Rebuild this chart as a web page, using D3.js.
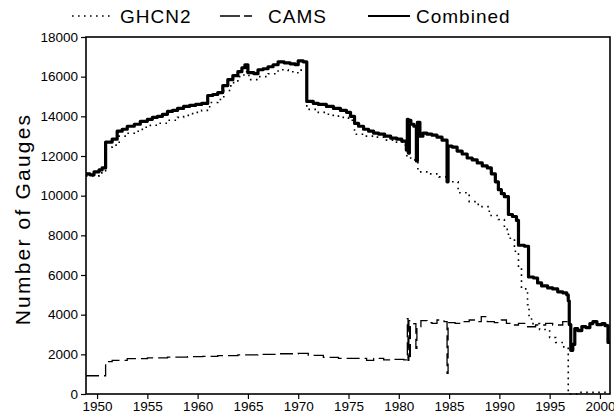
<!DOCTYPE html>
<html>
<head>
<meta charset="utf-8">
<script src="https://cdn.jsdelivr.net/npm/d3@7"></script>
<style>
	body { margin: 0; background: #fff; }
	svg { display: block; font-family: "Liberation Sans", Arial, sans-serif; }
	.tick_label { font-size: 13.5px; fill: #000; }
	.legend_text { font-size: 19px; letter-spacing: 1px; fill: #000; }
	.axis_title { font-size: 21px; letter-spacing: 2.2px; fill: #000; }
</style>
</head>
<body>
<svg id="chart" width="614" height="415"></svg>
<script>
// [year, number of gauges]
const ghcn2 = [
	[1948.9, 11000], [1949.5, 11000], [1950.2, 11150], [1950.85, 12450], [1951.5, 12550],
	[1952.2, 13000], [1953.0, 13150], [1953.7, 13250], [1954.5, 13450], [1955.3, 13550],
	[1956.0, 13650], [1957.0, 13800], [1958.0, 13950], [1958.6, 14050], [1959.5, 14200],
	[1960.4, 14300], [1961.2, 14700], [1962.0, 14850], [1962.6, 15300], [1963.3, 15700],
	[1964.0, 16000], [1964.6, 16250], [1965.1, 15850], [1966.0, 16000], [1967.0, 16150],
	[1968.0, 16350], [1969.0, 16250], [1969.8, 16200], [1970.3, 16350], [1970.85, 14350],
	[1972.0, 14200], [1973.0, 14050], [1974.0, 13950], [1975.0, 13800], [1975.6, 13100],
	[1976.5, 13000], [1977.5, 12950], [1978.5, 12800], [1979.5, 12700], [1980.5, 12550],
	[1980.8, 11900], [1981.6, 11800], [1981.9, 11200], [1983.0, 11100], [1984.0, 10950],
	[1984.9, 10700], [1985.9, 10150], [1987.0, 9700], [1987.9, 9450], [1989.0, 9000],
	[1989.9, 8800], [1990.5, 8300], [1990.9, 7850], [1991.5, 7200], [1991.9, 6400],
	[1992.2, 5300], [1992.8, 4500], [1992.95, 3900], [1993.2, 3550], [1994.0, 3250],
	[1995.0, 2850], [1995.6, 2600], [1996.4, 2300], [1996.85, 0], [1998.0, 80],
	[2001.0, 80]
];

const cams = [
	[1948.9, 920], [1950.85, 1630], [1951.5, 1700], [1953.0, 1780], [1955.0, 1820],
	[1957.0, 1860], [1959.0, 1880], [1960.5, 1900], [1962.0, 1930], [1964.0, 1970],
	[1966.0, 2000], [1968.0, 2030], [1970.0, 2050], [1971.0, 1950], [1972.5, 1850],
	[1974.0, 1800], [1975.5, 1800], [1976.8, 1700], [1977.5, 1800], [1978.5, 1720],
	[1979.5, 1750], [1980.5, 1720], [1980.85, 3800], [1980.92, 1700], [1981.0, 3700],
	[1981.08, 1750], [1981.15, 3450], [1981.5, 3550], [1981.7, 2300], [1981.8, 3400],
	[1982.2, 3700], [1982.8, 3600], [1983.3, 3560], [1983.8, 3730], [1984.5, 3650],
	[1984.8, 1040], [1984.9, 3600], [1985.6, 3560], [1986.3, 3650], [1987.0, 3730],
	[1987.6, 3650], [1988.2, 3900], [1988.8, 3650], [1989.5, 3600], [1990.2, 3730],
	[1990.7, 3560], [1991.2, 3480], [1991.9, 3560], [1992.6, 3390], [1993.6, 3480],
	[1994.6, 3560], [1995.3, 3480], [1996.3, 3650], [1996.85, 3560], [1997.1, 2200],
	[1997.3, 2500], [1997.5, 3300], [1997.8, 3200], [1998.2, 3400], [1998.6, 3350],
	[1999.0, 3550], [1999.3, 3650], [1999.7, 3500], [2000.2, 3550], [2000.5, 3450],
	[2000.8, 2600], [2001.0, 2600]
];

const combined = [
	[1948.9, 11100], [1949.3, 11050], [1949.7, 11200], [1950.2, 11300], [1950.5, 11400],
	[1950.85, 12700], [1951.5, 12850], [1952.0, 13250], [1952.5, 13350], [1953.0, 13500],
	[1953.7, 13600], [1954.3, 13750], [1955.0, 13850], [1955.5, 13950], [1956.0, 14000],
	[1956.5, 14100], [1957.0, 14250], [1957.5, 14300], [1958.0, 14400], [1958.6, 14500],
	[1959.2, 14550], [1959.8, 14600], [1960.4, 14650], [1961.0, 15050], [1961.5, 15100],
	[1962.0, 15200], [1962.5, 15550], [1963.0, 15850], [1963.5, 16050], [1964.0, 16250],
	[1964.4, 16450], [1964.7, 16600], [1965.0, 16200], [1965.6, 16150], [1966.0, 16350],
	[1966.5, 16400], [1967.0, 16500], [1967.5, 16600], [1968.0, 16750], [1968.6, 16700],
	[1969.2, 16650], [1969.7, 16600], [1970.0, 16800], [1970.5, 16750], [1970.85, 14750],
	[1971.5, 14650], [1972.0, 14600], [1972.8, 14500], [1973.5, 14400], [1974.2, 14300],
	[1974.8, 14200], [1975.2, 14000], [1975.6, 13650], [1976.0, 13500], [1976.5, 13350],
	[1977.0, 13250], [1977.5, 13150], [1978.0, 13100], [1978.6, 13000], [1979.2, 12900],
	[1979.8, 12850], [1980.3, 12750], [1980.75, 12300], [1980.85, 13850], [1980.95, 12150],
	[1981.05, 13800], [1981.2, 13600], [1981.5, 13500], [1981.75, 11750], [1981.85, 13700],
	[1982.1, 13000], [1982.4, 13150], [1982.8, 13100], [1983.3, 13050], [1983.8, 12950],
	[1984.3, 12800], [1984.8, 10700], [1984.9, 12500], [1985.3, 12450], [1985.8, 12250],
	[1986.3, 12100], [1986.8, 11900], [1987.3, 11800], [1987.8, 11650], [1988.3, 11500],
	[1988.8, 11400], [1989.2, 11100], [1989.6, 10700], [1989.9, 10300], [1990.2, 10100],
	[1990.5, 9950], [1990.9, 9050], [1991.3, 8950], [1991.7, 8750], [1991.9, 7500],
	[1992.5, 7450], [1992.9, 5900], [1993.4, 5850], [1993.8, 5600], [1994.2, 5450],
	[1994.8, 5350], [1995.3, 5300], [1995.8, 5150], [1996.3, 5100], [1996.7, 5000],
	[1996.85, 4700], [1996.95, 3500], [1997.1, 2200], [1997.3, 2500], [1997.5, 3300],
	[1997.8, 3200], [1998.2, 3400], [1998.6, 3350], [1999.0, 3550], [1999.3, 3650],
	[1999.7, 3500], [2000.2, 3550], [2000.5, 3450], [2000.8, 2600], [2001.0, 2600]
];

const yearTicks = [1950, 1955, 1960, 1965, 1970, 1975, 1980, 1985, 1990, 1995, 2000];
const gaugeTicks = [0, 2000, 4000, 6000, 8000, 10000, 12000, 14000, 16000, 18000];
const legendNames = ["GHCN2", "CAMS", "Combined"];

var svg = d3.select("#chart");

const plotLeft = 86, plotRight = 610, plotTop = 37, plotBottom = 394;

var x = d3.scaleLinear().domain([1948.9, 2001.0]).range([plotLeft, plotRight]);
var y = d3.scaleLinear().domain([0, 18000]).range([plotBottom, plotTop]);

//y axis, ticks outward
var yAxis = svg.append("g")
	.attr("transform", "translate(" + plotLeft + ",0)")
	.call(d3.axisLeft(y).tickValues(gaugeTicks).tickSize(5).tickPadding(3).tickFormat(d3.format("d")));

//x axis
var xAxis = svg.append("g")
	.attr("transform", "translate(0," + plotBottom + ")")
	.call(d3.axisBottom(x).tickValues(yearTicks).tickSize(5).tickPadding(2).tickFormat(d3.format("d")));

[yAxis, xAxis].forEach(function(a){
	a.select(".domain").remove();
	a.selectAll("line").attr("stroke", "#000").attr("stroke-width", 1.2);
	a.selectAll("text").attr("class", "tick_label").attr("font-family", null).attr("font-size", null);
});

//frame
svg.append("rect")
	.attr("x", plotLeft)
	.attr("y", plotTop)
	.attr("width", plotRight - plotLeft)
	.attr("height", plotBottom - plotTop)
	.attr("fill", "none")
	.attr("stroke", "#000")
	.attr("stroke-width", 1.6);

var line = d3.line()
	.x(d => x(d[0]))
	.y(d => y(d[1]))
	.curve(d3.curveStepAfter);

svg.append("path")
	.datum(ghcn2)
	.attr("d", line)
	.attr("fill", "none")
	.attr("stroke", "#000")
	.attr("stroke-width", 1.6)
	.attr("stroke-dasharray", "1.6,4.4");

//before 1981 the CAMS line is long-dashed, afterwards it looks almost solid
svg.append("path")
	.datum(cams)
	.attr("d", line)
	.attr("fill", "none")
	.attr("stroke", "#000")
	.attr("stroke-width", 1.3)
	.attr("stroke-dasharray", "13,5");

svg.append("path")
	.datum(combined)
	.attr("d", line)
	.attr("fill", "none")
	.attr("stroke", "#000")
	.attr("stroke-width", 3.2)
	.attr("stroke-linejoin", "round");

//axis title
svg.append("text")
	.attr("class", "axis_title")
	.attr("text-anchor", "middle")
	.attr("transform", "translate(30,219) rotate(-90)")
	.text("Number of Gauges");

//legend
const legendX = [72, 220, 368];
const legendStyle = [
	{dash: "1.6,4.4", width: 1.6},
	{dash: "20,4,8,10", width: 1.4},
	{dash: null, width: 2}
];
legendNames.forEach(function(name, i){
	svg.append("line")
		.attr("x1", legendX[i])
		.attr("x2", legendX[i] + 42)
		.attr("y1", 16)
		.attr("y2", 16)
		.attr("stroke", "#000")
		.attr("stroke-width", legendStyle[i].width)
		.attr("stroke-dasharray", legendStyle[i].dash);
	svg.append("text")
		.attr("class", "legend_text")
		.attr("x", legendX[i] + 48)
		.attr("y", 23)
		.text(name);
});
</script>
</body>
</html>
